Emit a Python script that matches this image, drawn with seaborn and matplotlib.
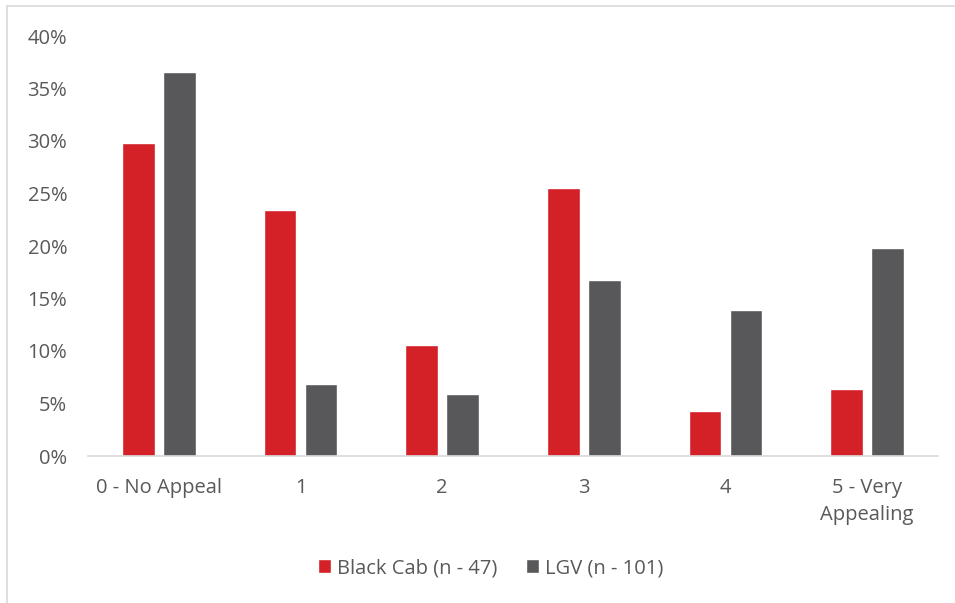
import pandas as pd
import seaborn as sns
import matplotlib.pyplot as plt
from matplotlib.ticker import PercentFormatter
from matplotlib.lines import Line2D

categories = ["0 - No Appeal", "1", "2", "3", "4", "5 - Very\nAppealing"]
black_cab = [29.8, 23.4, 10.6, 25.5, 4.3, 6.4]
lgv = [36.6, 6.9, 5.9, 16.8, 13.9, 19.8]
series_names = ["Black Cab (n - 47)", "LGV (n - 101)"]
colors = ["#D42027", "#58585A"]
text_color = "#595959"

df = pd.DataFrame({
    "category": categories * 2,
    "share": black_cab + lgv,
    "series": [series_names[0]] * len(categories) + [series_names[1]] * len(categories),
})

sns.set_style("white")
plt.rcParams["font.family"] = ["Open Sans", "DejaVu Sans"]

fig = plt.figure(figsize=(9.55, 6.03), dpi=100)
W, H = 955, 603
ax = fig.add_axes([88 / W, 1 - 456 / H, (938 - 88) / W, (456 - 36) / H])

sns.barplot(data=df, x="category", y="share", hue="series", palette=colors,
            width=0.58, gap=0.2, ax=ax, saturation=1)

ax.set_ylim(0, 40)
ax.set_xlim(-0.5, len(categories) - 0.5)
ax.set_yticks(range(0, 41, 5))
ax.yaxis.set_major_formatter(PercentFormatter(decimals=0))
ax.set_xlabel(None)
ax.set_ylabel(None)

for side in ["top", "right", "left"]:
    ax.spines[side].set_visible(False)
ax.spines["bottom"].set_color("#D9D9D9")
ax.spines["bottom"].set_linewidth(1.2)

ax.tick_params(axis="y", length=0, pad=15, labelsize=14.5, labelcolor=text_color)
ax.tick_params(axis="x", length=0, pad=16, labelsize=14.5, labelcolor=text_color)
for lbl in ax.get_xticklabels():
    lbl.set_linespacing(1.45)

ax.legend(loc="upper center", bbox_to_anchor=(0.474, -0.2), ncol=2, frameon=False,
          fontsize=14.5, labelcolor=text_color, handlelength=0.65, handleheight=0.65,
          handletextpad=0.3, columnspacing=1.4)

# chart border (left and top visible in reference)
fig.add_artist(Line2D([7 / W, 7 / W], [0, 1 - 6 / H], color="#D9D9D9", lw=1.2))
fig.add_artist(Line2D([7 / W, 1], [1 - 6 / H, 1 - 6 / H], color="#D9D9D9", lw=1.2))

fig.savefig("out.png", dpi=100)
